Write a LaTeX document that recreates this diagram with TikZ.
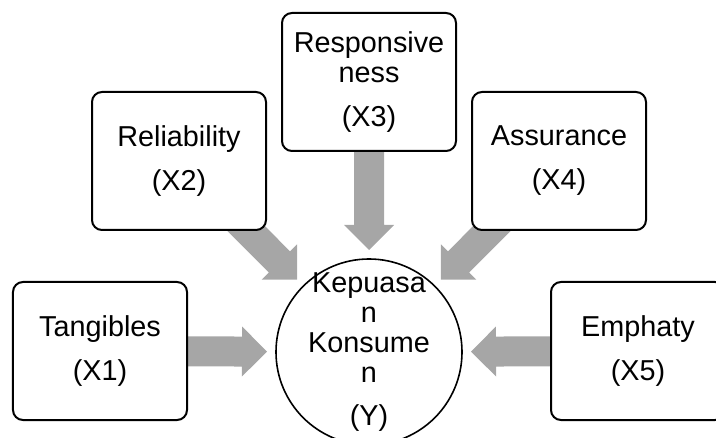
\documentclass[tikz,border=0pt]{standalone}
\usepackage{fontspec}
\setmainfont{Liberation Sans}
\usetikzlibrary{calc,backgrounds}
\definecolor{pfeilgrau}{RGB}{166,166,166}
\newcommand{\schrift}{\fontsize{28.8bp}{30bp}\selectfont}
\newcommand{\dickpfeil}[2]{%
   \coordinate (h) at ($(#2)!25bp!(#1)$);
   \fill[pfeil] ($(#1)!15bp!90:(#2)$) -- ($(h)!15bp!-90:(#1)$)
      -- ($(h)!25bp!-90:(#1)$) -- (#2) -- ($(h)!25bp!90:(#1)$)
      -- ($(h)!15bp!90:(#1)$) -- ($(#1)!15bp!-90:(#2)$) -- cycle;
}

\begin{document}
\begin{tikzpicture}
      [x = 1bp, y = -1bp,
      pfeil/.style = {fill = pfeilgrau},
      faktor/.style = {
         draw,
         fill = white,
         line width = 2bp,
         rounded corners = 10bp,
         minimum width = 174bp,
         minimum height = 138bp,
         align = center,
         font = \schrift
      },
      kepuasan/.style = {
         draw,
         circle,
         line width = 1.6bp,
         inner sep = 0pt,
         minimum size = 186bp
      }]

      \useasboundingbox (0, 0) rectangle (716, 438);

      \node[kepuasan, label = {[align = center, font = \schrift]center:{Kepuasa\\n\\Konsume\\n\\[13bp](Y)}}] (y) at (369, 352) {};

      \node[faktor] (x1) at (100, 351) {Tangibles\\[14bp](X1)};
      \node[faktor] (x2) at (179, 161) {Reliability\\[14bp](X2)};
      \node[faktor] (x3) at (369, 82) {Responsive\\ness\\[14bp](X3)};
      \node[faktor] (x4) at (559, 161) {Assurance\\[14bp](X4)};
      \node[faktor] (x5) at (638, 351) {Emphaty\\[14bp](X5)};

      \coordinate (t1) at ($(y)!102bp!(x1)$);
      \coordinate (t2) at ($(y)!102bp!(x2)$);
      \coordinate (t3) at ($(y)!102bp!(x3)$);
      \coordinate (t4) at ($(y)!102bp!(x4)$);
      \coordinate (t5) at ($(y)!102bp!(x5)$);

      \begin{pgfonlayer}{background}
         \dickpfeil{x1}{t1}
         \dickpfeil{x2}{t2}
         \dickpfeil{x3}{t3}
         \dickpfeil{x4}{t4}
         \dickpfeil{x5}{t5}
      \end{pgfonlayer}

   \end{tikzpicture}
\end{document}
